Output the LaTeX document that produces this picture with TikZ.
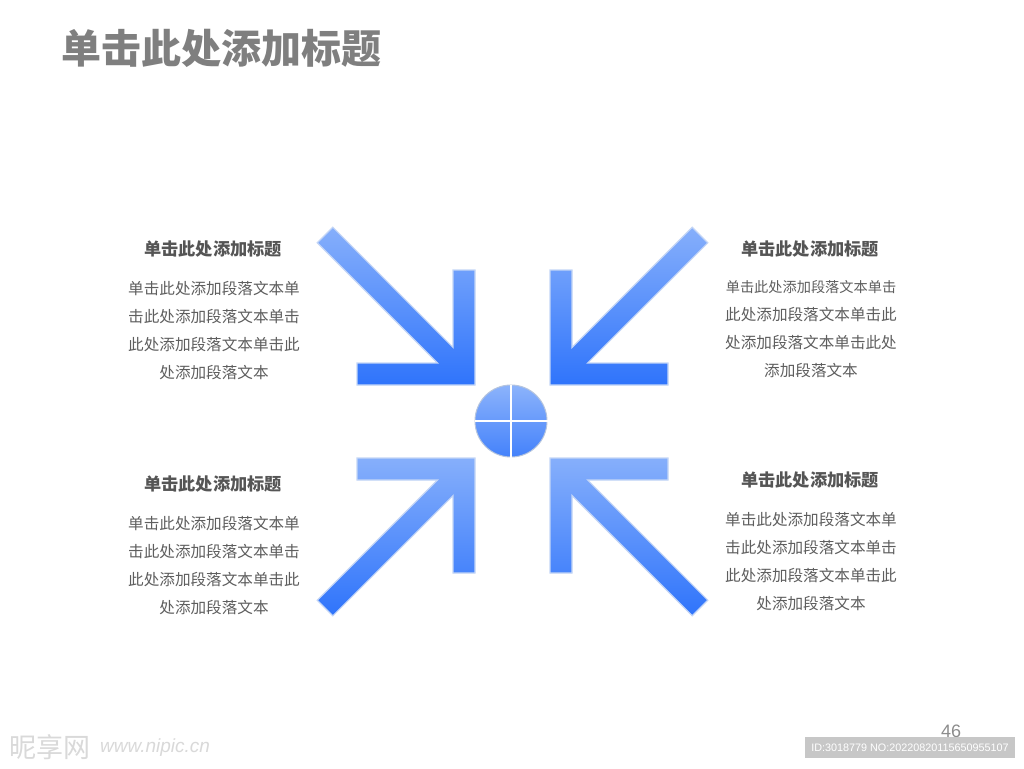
\documentclass[tikz,border=0pt]{standalone}
\usepackage{fontspec}
\setmainfont{Liberation Sans}
\newfontfamily\cjk{Noto Sans CJK SC}
\definecolor{arrowtop}{HTML}{86AFFB}
\definecolor{arrowbot}{HTML}{2F74FB}
\definecolor{arrowedge}{HTML}{C4D6F6}
\definecolor{titlegray}{HTML}{7F7F7F}
\definecolor{headgray}{HTML}{555555}
\definecolor{bodygray}{HTML}{5E5E5E}
\newcommand\arrowpath{(0,0) -- (0,-115) -- (-22,-115) -- (-22,-37.6) -- (-142.2,-157.8) -- (-157.8,-142.2) -- (-37.6,-22) -- (-118,-22) -- (-118,0) -- cycle}
\tikzset{
  arrowfill/.style={top color=arrowtop, bottom color=arrowbot, draw=arrowedge, line width=1.2pt, line join=miter},
  titletxt/.style={font=\cjk\bfseries\fontsize{40}{44}\selectfont, text=titlegray, inner sep=0pt, anchor=west},
  headtxt/.style={font=\cjk\bfseries\fontsize{17.2}{20}\selectfont, text=headgray, inner sep=0pt},
  bodytxt/.style={font=\cjk\fontsize{15.6}{28}\selectfont, text=bodygray, align=center, inner sep=0pt},
  hubstyle/.style={circle, minimum size=72pt, inner sep=0pt, top color=arrowtop!95!white, bottom color=arrowbot!90!white, draw=arrowedge!80!gray, line width=1pt},
  crossline/.style={white, line width=1.6pt},
  marktxt/.style={font=\cjk\fontsize{27}{30}\selectfont, text=black!15, inner sep=0pt, anchor=west}
}
\begin{document}
\begin{tikzpicture}[x=1pt,y=-1pt]
\useasboundingbox (0,0) rectangle (1024,768);
\fill[white] (0,0) rectangle (1024,768);

% title
\node[titletxt] (title) at (61,48) {单击此处添加标题};

% arrows
\begin{scope}[shift={(475,385)}]
  \path[arrowfill] \arrowpath;
\end{scope}
\begin{scope}[shift={(550,385)}, xscale=-1]
  \path[arrowfill] \arrowpath;
\end{scope}
\begin{scope}[shift={(475,458)}, yscale=-1]
  \path[arrowfill] \arrowpath;
\end{scope}
\begin{scope}[shift={(550,458)}, xscale=-1, yscale=-1]
  \path[arrowfill] \arrowpath;
\end{scope}

% hub
\node[hubstyle] (hub) at (511,421) {};
\draw[crossline] (hub.west) -- (hub.east);
\draw[crossline] (hub.north) -- (hub.south);

% headings
\node[headtxt] (h1) at (213,249) {单击此处添加标题};
\node[headtxt] (h2) at (810,249) {单击此处添加标题};
\node[headtxt] (h3) at (213,484) {单击此处添加标题};
\node[headtxt] (h4) at (810,480) {单击此处添加标题};

% bodies
\node[bodytxt] (b1) at (214,331) {单击此处添加段落文本单\\击此处添加段落文本单击\\此处添加段落文本单击此\\处添加段落文本};
\node[bodytxt] (b2) at (811,329) {{\fontsize{14.2}{28}\selectfont 单击此处添加段落文本单击}\\此处添加段落文本单击此\\处添加段落文本单击此处\\添加段落文本};
\node[bodytxt] (b3) at (214,566) {单击此处添加段落文本单\\击此处添加段落文本单击\\此处添加段落文本单击此\\处添加段落文本};
\node[bodytxt] (b4) at (811,562) {单击此处添加段落文本单\\击此处添加段落文本单击\\此处添加段落文本单击此\\处添加段落文本};

% page number
\node[font=\fontsize{18}{20}\selectfont, text=black!45, inner sep=0pt] (pg) at (951,731) {46};

% watermark
\node[marktxt] (wm1) at (9,747) {昵享网};
\node[font=\itshape\fontsize{19}{22}\selectfont, text=black!15, inner sep=0pt, anchor=west] (wm2) at (100,748) {www.nipic.cn};
\node[fill=black!22, text=white, font=\fontsize{10.8}{12}\selectfont, minimum width=210pt, minimum height=21pt, inner sep=0pt] (idbox) at (910,747.5) {ID:3018779 NO:20220820115650955107};
\end{tikzpicture}
\end{document}
